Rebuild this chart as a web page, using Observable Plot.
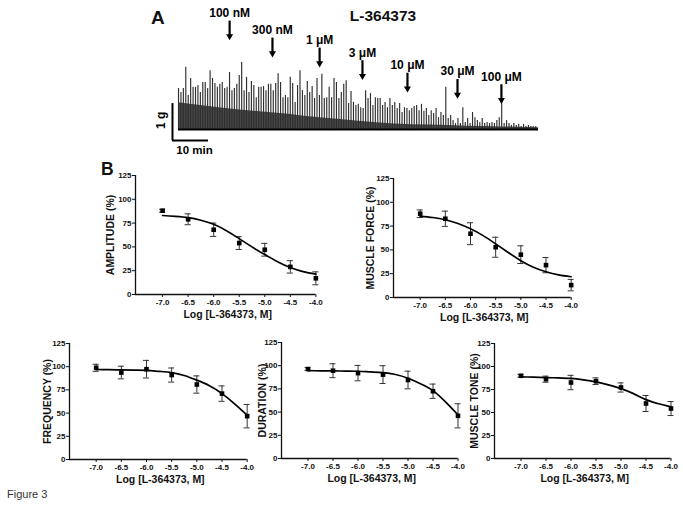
<!DOCTYPE html>
<html><head><meta charset="utf-8">
<script src="https://cdn.jsdelivr.net/npm/d3@7"></script>
<script src="https://cdn.jsdelivr.net/npm/@observablehq/plot@0.6"></script>
<style>
body{margin:0;background:#fff;}
#fig{position:relative;width:683px;height:505px;overflow:hidden;font-family:"Liberation Sans",Arial,sans-serif;color:#111;}
#fig > *{position:absolute;}
.lbl{font-weight:bold;line-height:1;white-space:nowrap;margin:0;}
</style></head><body><div id="fig"></div>
<script>
// ---------------- DATA ----------------
const drug = "L-364373";
// Panel A: contraction peaks (g above baseline), one per contraction
const spikePeriodMin = 0.675;
const spikeG = [1.11,1.0,1.11,1.68,0.92,1.38,1.14,1.14,1.19,1.0,1.27,1.27,1.11,1.59,1.38,1.24,1.14,1.22,1.27,1.11,1.14,1.54,1.05,1.11,1.22,1.46,1.81,1.05,1.41,1.0,1.3,1.19,0.86,1.14,1.14,1.16,1.05,1.22,1.22,1.05,1.24,
1.51,1.27,0.86,0.92,0.86,1.41,1.24,0.73,1.19,1.59,1.05,0.92,1.3,1.0,1.16,0.84,1.38,0.92,1.49,0.84,0.86,1.14,0.86,1.38,1.27,0.84,1.0,1.22,1.32,0.7,1.03,0.73,0.65,0.68,0.59,0.57,1.05,0.84,
0.97,0.65,0.86,0.84,0.84,0.65,0.73,0.59,0.84,0.65,0.73,0.57,0.7,0.46,0.59,0.57,0.51,0.57,0.62,0.65,0.51,0.68,0.49,0.57,0.38,0.51,0.43,0.57,0.32,0.46,0.38,1.14,0.3,0.38,0.24,
0.16,0.3,0.16,0.59,0.19,0.3,0.16,0.46,0.32,0.24,0.19,0.3,0.16,0.19,0.16,0.19,0.16,0.24,0.32,0.78,0.16,0.24,0.16,0.11,0.16,0.11,0.14,0.08,0.14,0.08,0.11,0.08,0.08,0.08];
// dense low-level activity envelope (g) every 5 min
const tonicT = [0,5,10,15,20,25,30,35,40,45,50,55,60,65,70,75,80,85,90,95,100];
const tonicG = [0.72,0.66,0.6,0.55,0.5,0.46,0.42,0.36,0.31,0.27,0.22,0.18,0.15,0.13,0.12,0.11,0.09,0.08,0.07,0.06,0.05];
// drug additions
const doseLabels = ["100 nM","300 nM","1 \u03bcM","3 \u03bcM","10 \u03bcM","30 \u03bcM","100 \u03bcM"];
const doseTimeMin = [14.2,26.1,39.2,51.1,63.6,77.5,89.7];
const arrowTipG = [2.41,1.95,1.68,1.34,1.0,0.83,0.69];

// Panel B
const doseLog = [-7.0,-6.5,-6.0,-5.5,-5.0,-4.5,-4.0];
const curveLog = [-7.0,-6.75,-6.5,-6.25,-6.0,-5.75,-5.5,-5.25,-5.0,-4.75,-4.5,-4.25,-4.0];
const yTicks = [0,25,50,75,100,125];

const amplitudeMean = [88,79,68,54,47,29,17];
const amplitudeSem  = [1.5,5.7,7,6.7,6.7,6.5,6.8];
const amplitudeFit  = [83,82,80.7,78,73.7,67,58.7,50,41.9,34.5,28.3,24,21.3];

const forceMean = [88,82.7,67,52.8,45,34,13];
const forceSem  = [4,8,11.5,10.5,9.3,8,6];
const forceFit  = [85.2,84,81.7,77.8,72.2,65,56.3,47.3,38.7,31.8,27,23.8,21.8];

const frequencyMean = [98.8,93.7,97.3,91,80.8,71,46.7];
const frequencySem  = [3.8,6.8,9.5,7.6,9.3,8.3,12.6];
const frequencyFit  = [97,96.8,96.6,96.3,96,95,93.7,90.5,85.5,79.5,71,60,47.8];

const durationMean = [96.4,94.6,92,90.4,84.6,72.5,46];
const durationSem  = [1.5,7.5,8.3,9.6,9.5,7.7,13];
const durationFit  = [94.6,94.5,94.4,94.2,94,93.3,92.5,90.5,86.4,80.5,73.2,61,47];

const toneMean = [89.9,86.2,82.6,84,77.2,59.8,54.3];
const toneSem  = [1.5,3.3,7.8,3.6,5,8.7,7.6];
const toneFit  = [88.8,88.4,88,87.6,87,85.5,83.3,80,76,70.5,64,59.5,56.2];

const panelNames = ["AMPLITUDE (%)","MUSCLE FORCE (%)","FREQUENCY (%)","DURATION (%)","MUSCLE TONE (%)"];

// ---------------- LAYOUT ----------------
const fig = document.getElementById("fig");
const FONT = '"Liberation Sans", Arial, sans-serif';
function place(el, left, top){ el.style.position="absolute"; el.style.left=left+"px"; el.style.top=top+"px"; fig.appendChild(el); }
function label(text, left, top, size, weight, extra){
  const d=document.createElement("div"); d.className="lbl"; d.textContent=text;
  d.style.fontSize=size+"px"; d.style.fontWeight=weight; if(extra) Object.assign(d.style, extra);
  place(d,left,top); return d;
}

// ---- Panel A ----
const spikes = spikeG.map((g,i)=>({t:i*spikePeriodMin, g}));
const tonic = tonicT.map((t,i)=>({t, g:tonicG[i]}));
const arrows = doseLabels.map((s,i)=>({s, t:doseTimeMin[i], tip:arrowTipG[i]}));
const bar = {t0:-1.67, g0:-0.3};
const plotA = Plot.plot({
  width:420, height:162, marginLeft:2, marginRight:4, marginTop:3.2, marginBottom:10.8,
  x:{domain:[-10,105], axis:null}, y:{domain:[-0.6,3.4], axis:null},
  style:{fontFamily:FONT, background:"transparent", overflow:"visible", color:"#000"},
  marks:[
    Plot.areaY(tonic, {x:"t", y:"g", fill:"#333", fillOpacity:0.9}),
    Plot.ruleX(spikes, {x:"t", y1:0, y2:"g", stroke:"#2e2e2e", strokeWidth:1.15}),
    Plot.ruleY([0], {x1:0, x2:100, stroke:"#000", strokeWidth:2}),
    Plot.ruleX([bar], {x:"t0", y1:"g0", y2:d=>d.g0+1, stroke:"#000", strokeWidth:2}),
    Plot.ruleY([bar], {y:"g0", x1:"t0", x2:d=>d.t0+10, stroke:"#000", strokeWidth:2}),
    Plot.text([bar], {x:"t0", y:d=>d.g0+0.55, text:()=>"1 g", rotate:-90, dx:-11, fontSize:12, fontWeight:"bold"}),
    Plot.text([bar], {x:d=>d.t0+5, y:"g0", text:()=>"10 min", dx:4, dy:10, fontSize:11.5, fontWeight:"bold"}),
    Plot.ruleX(arrows, {x:"t", y1:d=>d.tip+0.12, y2:d=>d.tip+0.52, stroke:"#000", strokeWidth:2.2}),
    Plot.dot(arrows, {x:"t", y:"tip", symbol:"triangle", r:2.6, rotate:180, fill:"#000", stroke:"none", dy:-4}),
    Plot.text(arrows, {x:"t", y:d=>d.tip+0.52, text:"s", dy:-8, fontSize:12, fontWeight:"bold"})
  ]
});
place(plotA, 140, 0);
label("A", 151, 7.5, 19, "bold");
label(drug, 383, 7.9, 15.5, "bold", {transform:"translateX(-50%)"});

// ---- Panel B ----
const layoutB = [
  {x7:161.7, x4:315, y0:294, y125:175, ylabOff:25},
  {x7:420,   x4:571, y0:297, y125:178, ylabOff:23},
  {x7:96,    x4:247, y0:459, y125:343, ylabOff:22},
  {x7:307,   x4:457, y0:458, y125:342, ylabOff:19},
  {x7:520,   x4:670, y0:458, y125:343, ylabOff:20}
];
const XMIN = -7.53;
const series = [
  [amplitudeMean, amplitudeSem, amplitudeFit],
  [forceMean, forceSem, forceFit],
  [frequencyMean, frequencySem, frequencyFit],
  [durationMean, durationSem, durationFit],
  [toneMean, toneSem, toneFit]
];
series.forEach(([mean, sem, fit], k) => {
  const L = layoutB[k];
  const frameLeft = L.x7 - (-7 - XMIN) * (L.x4 - L.x7) / 3;
  const mL=45, mR=14, mT=12, mB=30;
  const W = (L.x4 - frameLeft) + mL + mR;
  const H = (L.y0 - L.y125) + mT + mB;
  const rows = doseLog.map((x,i)=>({x, m:mean[i], e:sem[i]}));
  const fitRows = curveLog.map((x,i)=>({x, y:fit[i]}));
  const p = Plot.plot({
    width:W, height:H, marginLeft:mL, marginRight:mR, marginTop:mT, marginBottom:mB,
    x:{domain:[XMIN,-4], label:null}, y:{domain:[0,125], label:null},
    style:{fontFamily:FONT, fontSize:"8px", fontWeight:"bold", background:"transparent", overflow:"visible", color:"#111"},
    marks:[
      Plot.ruleX([XMIN], {y1:0, y2:125, stroke:"#111", strokeWidth:1.3}),
      Plot.ruleY([0], {x1:XMIN, x2:-4, stroke:"#111", strokeWidth:1.3}),
      Plot.axisY({ticks:yTicks, tickSize:3, tickPadding:1, label:null, tickFormat:d=>String(d)}),
      Plot.axisX({ticks:doseLog, tickSize:3, tickPadding:2, label:null, tickFormat:d=>d.toFixed(1)}),
      Plot.ruleX(rows, {x:"x", y1:d=>d.m-d.e, y2:d=>d.m+d.e, stroke:"#333", strokeWidth:1}),
      Plot.ruleY(rows, {y:d=>d.m+d.e, x1:d=>d.x-0.06, x2:d=>d.x+0.06, stroke:"#333", strokeWidth:1}),
      Plot.ruleY(rows, {y:d=>d.m-d.e, x1:d=>d.x-0.06, x2:d=>d.x+0.06, stroke:"#333", strokeWidth:1}),
      Plot.line(fitRows, {x:"x", y:"y", curve:"natural", stroke:"#000", strokeWidth:1.7}),
      Plot.dot(rows, {x:"x", y:"m", symbol:"square", r:2.6, fill:"#000", stroke:"none"}),
      Plot.text([panelNames[k]], {text:d=>d, frameAnchor:"left", textAnchor:"middle", lineAnchor:"middle", rotate:-90, dx:-L.ylabOff, fontSize:10.5, fontWeight:"bold"}),
      Plot.text(["Log [" + drug + ", M]"], {text:d=>d, frameAnchor:"bottom", textAnchor:"middle", lineAnchor:"middle", dx:2, dy:20, fontSize:10.5, fontWeight:"bold"})
    ]
  });
  place(p, frameLeft - mL, L.y125 - mT);
});
label("B", 101, 160.6, 17.5, "bold");
label("Figure 3", 7, 488.7, 11, "normal", {color:"#333"});
</script>
</body></html>
